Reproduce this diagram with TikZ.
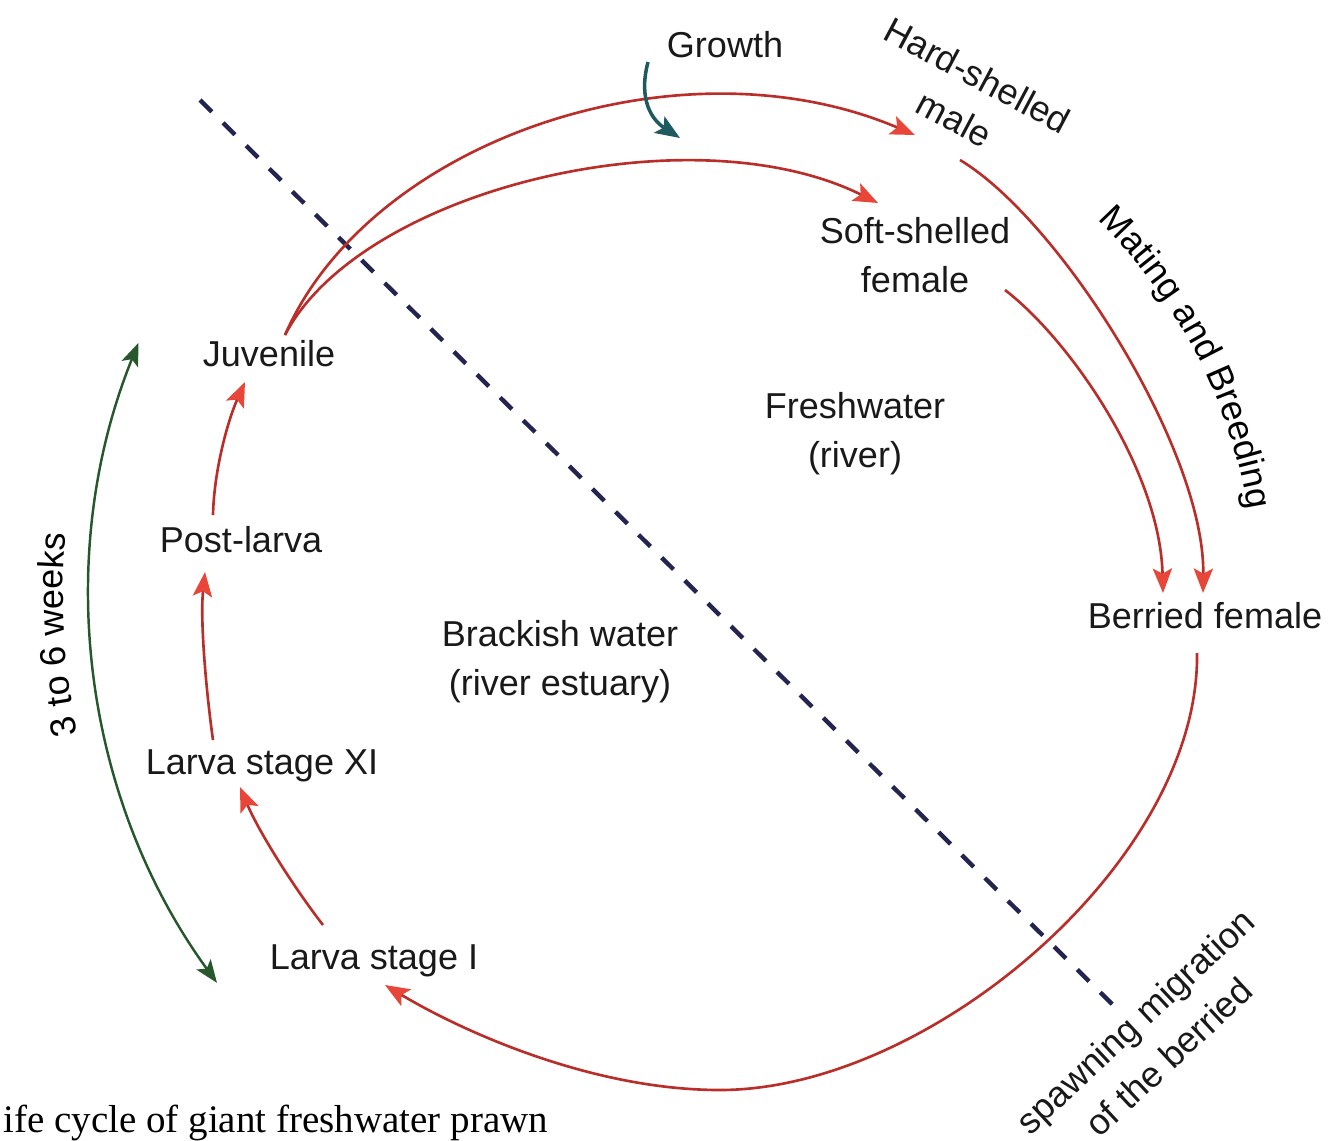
\documentclass[tikz,border=0pt]{standalone}
\usepackage{fontspec}
\setmainfont{Liberation Sans}
\newfontfamily\capfont{Liberation Serif}
\usetikzlibrary{arrows.meta,decorations.text}
\definecolor{cycred}{RGB}{186,46,42}
\definecolor{tipred}{RGB}{232,70,56}
\definecolor{wkgreen}{RGB}{38,88,44}
\definecolor{growteal}{RGB}{30,90,96}
\definecolor{divnavy}{RGB}{36,36,80}
\newcommand\lblsize{\fontsize{20.5}{28}\selectfont}

\begin{document}
\begin{tikzpicture}[x=0.02cm,y=-0.02cm,
  lbl/.style={font=\lblsize,text=black!90,inner sep=2pt,align=center},
  cyc/.style={draw=cycred,line width=1.5pt,-{Stealth[length=14pt,width=11pt,inset=3pt,color=tipred]}},
  weeks/.style={draw=wkgreen,line width=1.4pt,{Stealth[length=13pt,width=10pt,inset=3pt]}-{Stealth[length=13pt,width=10pt,inset=3pt]}},
  growarr/.style={draw=growteal,line width=2pt,-{Stealth[length=14pt,width=11pt,inset=3pt]}},
  divide/.style={draw=divnavy,line width=2.5pt,dash pattern=on 9.5pt off 9pt}]
  \useasboundingbox (0,0) rectangle (1331,1140);
  \coordinate (ctr) at (730,595);
  \coordinate (wkc) at (755,592);
  \coordinate (d1) at (200,100);
  \coordinate (d2) at (1113,1005);
  \coordinate (btm) at (720,1090);
  \draw[divide] (d1)--(d2);
  \node[lbl] (growth) at (725,45) {Growth};
  \node[lbl,rotate=-28] (hard) at (966,97) {Hard-shelled\\male};
  \node[lbl] (soft) at (915,255) {Soft-shelled\\female};
  \node[lbl] (fresh) at (855,434) {Freshwater\\(river)};
  \node[lbl] (brack) at (560,662) {Brackish water\\(river estuary)};
  \node[lbl] (berried) at (1205,616) {Berried female};
  \node[lbl] (juv) at (269,354) {Juvenile};
  \node[lbl] (post) at (241,540) {Post-larva};
  \node[lbl] (lxi) at (262,766) {Larva stage XI};
  \node[lbl] (li) at (374,961) {Larva stage I};
  \node[lbl,rotate=43] (spawn) at (1152,1039) {spawning migration\\of the berried};
  \node[anchor=base west,inner sep=0pt,font=\capfont\fontsize{22.2}{26}\selectfont] (cap) at (3,1132) {ife cycle of giant freshwater prawn};
  \draw[cyc] ([shift={(-51,-36)}]li.center) .. controls (292,885) and (258,830) .. ([shift={(-22,21)}]lxi.center);
  \draw[cyc] ([shift={(-49,-26)}]lxi.center) .. controls (206,690) and (200,620) .. ([shift={(-36,32)}]post.center);
  \draw[cyc] ([shift={(-28,-25)}]post.center) .. controls (214,470) and (228,420) .. ([shift={(-24,28)}]juv.center);
  \draw[cyc] ([shift={(16,-19)}]juv.center) .. controls (370,140) and (680,35) .. ([shift={(-51,38)}]hard.center);
  \draw[cyc] ([shift={(16,-19)}]juv.center) .. controls (360,190) and (690,110) .. ([shift={(-37,-52)}]soft.center);
  \draw[cyc] ([shift={(-6,63)}]hard.center) .. controls (1060,220) and (1205,450) .. ([shift={(-2,-23)}]berried.center);
  \draw[cyc] ([shift={(90,35)}]soft.center) .. controls (1070,340) and (1160,470) .. ([shift={(-42,-23)}]berried.center);
  \draw[cyc] ([shift={(-8,37)}]berried.center) .. controls (1200,860) and (930,1090) .. (btm)
    .. controls (590,1090) and (460,1030) .. ([shift={(11,24)}]li.center);
  \draw[growarr] ([shift={(-77,17)}]growth.center) .. controls (638,100) and (652,120) .. ([shift={(-45,93)}]growth.center);
  \draw[weeks] ([shift={(144:665)}]wkc) arc[start angle=144,end angle=202,radius=665];
  \path[decorate,decoration={text along path,text align=center,text={|\lblsize|3 to 6 weeks}}]
    ([shift={(160:692)}]wkc) arc[start angle=160,end angle=193,radius=692];
  \path[decorate,decoration={text along path,text align=center,text={|\lblsize|Mating and Breeding}}]
    ([shift={(-55:525)}]ctr) arc[start angle=-55,end angle=0,radius=525];
\end{tikzpicture}
\end{document}
